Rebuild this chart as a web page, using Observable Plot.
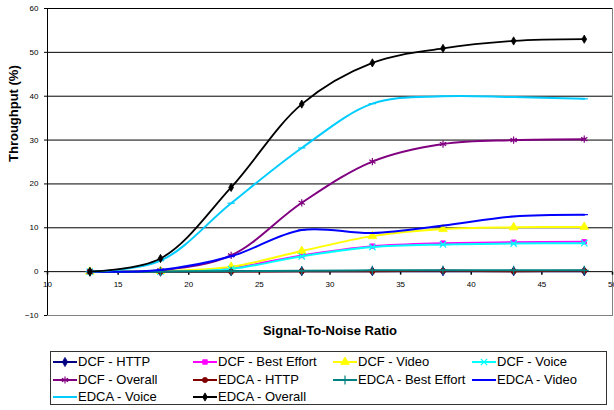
<!DOCTYPE html>
<html><head><meta charset="utf-8">
<script src="https://cdn.jsdelivr.net/npm/d3@7"></script>
<script src="https://cdn.jsdelivr.net/npm/@observablehq/plot@0.6"></script>
<style>
body{margin:0;background:#fff;font-family:"Liberation Sans",Arial,sans-serif;}
#wrap{position:relative;width:614px;height:410px;overflow:hidden;background:#fff;}
#legend{position:absolute;left:50px;top:351px;width:557px;height:54px;border:1px solid #333;box-sizing:border-box;}
.item{position:absolute;display:flex;align-items:center;height:16px;font-size:13px;line-height:16px;color:#000;white-space:nowrap;}
.item svg{margin-right:1px;}
</style></head><body><div id="wrap"><div id="chart"></div><div id="legend"></div></div>
<script>
// ---- data ----
const snr = [13, 18, 23, 28, 33, 38, 43, 48];
const seriesNames = ["DCF - HTTP", "DCF - Best Effort", "DCF - Video", "DCF - Voice", "DCF - Overall",
  "EDCA - HTTP", "EDCA - Best Effort", "EDCA - Video", "EDCA - Voice", "EDCA - Overall"];
const dcfHttp        = [0, 0, 0.1, 0.1, 0.1, 0.1, 0.1, 0.1];
const dcfBestEffort  = [0, 0, 0.8, 3.7, 5.8, 6.5, 6.7, 6.8];
const dcfVideo       = [0, 0.1, 1.1, 4.7, 8.1, 9.7, 10.1, 10.2];
const dcfVoice       = [0, 0, 0.6, 3.5, 5.6, 6.2, 6.4, 6.5];
const dcfOverall     = [0, 0.3, 3.7, 15.7, 25.1, 29.1, 30.0, 30.2];
const edcaHttp       = [0, 0, 0, 0.1, 0.1, 0.2, 0.1, 0.2];
const edcaBestEffort = [0, 0, 0.1, 0.2, 0.3, 0.3, 0.3, 0.3];
const edcaVideo      = [0, 0.4, 3.5, 9.5, 8.8, 10.5, 12.6, 13.0];
const edcaVoice      = [0, 2.5, 15.6, 28.2, 38.3, 40.0, 39.8, 39.4];
const edcaOverall    = [0, 3.0, 19.2, 38.2, 47.6, 50.9, 52.6, 53.0];
const seriesValues = [dcfHttp, dcfBestEffort, dcfVideo, dcfVoice, dcfOverall,
  edcaHttp, edcaBestEffort, edcaVideo, edcaVoice, edcaOverall];
const xTicks = [10, 15, 20, 25, 30, 35, 40, 45, 50];
const yTicks = [-10, 0, 10, 20, 30, 40, 50, 60];
const gridY = [10, 20, 30, 40, 50, 60];

// ---- styles ----
const colors = ["#000080", "#FF00FF", "#FFFF00", "#00FFFF", "#800080",
  "#800000", "#008080", "#0000FF", "#00CCFF", "#000000"];
const dash = {draw(ctx, size) { const w = Math.sqrt(size) * 0.8; ctx.moveTo(-w, 0); ctx.lineTo(w, 0); }};
const vtick = {draw(ctx) { ctx.moveTo(0, 0); ctx.lineTo(0, 3); }};
const markers = [
  {sym: "diamond", d3: d3.symbolDiamond, fill: true, r: 2.8},
  {sym: "square", d3: d3.symbolSquare, fill: true, r: 2.6},
  {sym: "triangle", d3: d3.symbolTriangle, fill: true, r: 3.2},
  {sym: "times", d3: d3.symbolTimes, fill: false, r: 3.0},
  {sym: "asterisk", d3: d3.symbolAsterisk, fill: false, r: 3.4},
  {sym: "circle", d3: d3.symbolCircle, fill: true, r: 2.6},
  {sym: "plus", d3: d3.symbolPlus, fill: false, r: 3.0},
  {sym: dash, d3: dash, fill: false, r: 2.6},
  {sym: dash, d3: dash, fill: false, r: 2.6},
  {sym: "diamond", d3: d3.symbolDiamond, fill: true, r: 2.5}
];

const rows = seriesNames.flatMap((s, i) => snr.map((x, j) => ({series: s, idx: i, x, y: seriesValues[i][j]})));

const seriesMarks = seriesNames.flatMap((s, i) => {
  const data = rows.filter(d => d.series === s);
  const m = markers[i];
  return [
    Plot.line(data, {x: "x", y: "y", stroke: colors[i], strokeWidth: i === 9 ? 1.8 : 2, curve: "catmull-rom"}),
    Plot.dot(data, {x: "x", y: "y", symbol: m.sym, r: m.r,
      fill: m.fill ? colors[i] : "none", stroke: colors[i], strokeWidth: m.fill ? 0.8 : 1.2})
  ];
});

const chart = Plot.plot({
  width: 614, height: 345,
  marginLeft: 47, marginRight: 2, marginTop: 8, marginBottom: 30,
  style: {fontFamily: "'Liberation Sans', Arial, sans-serif", background: "#fff", overflow: "visible"},
  x: {domain: [10, 50]},
  y: {domain: [-10, 60]},
  marks: [
    Plot.frame({stroke: "#808080"}),
    Plot.ruleY(gridY, {stroke: "#000", strokeWidth: 1}),
    Plot.ruleY([0], {stroke: "#000"}),
    Plot.ruleX([10], {stroke: "#000"}),
    Plot.axisY({ticks: yTicks, tickSize: 3, tickPadding: 6, fontSize: 8, label: null, stroke: "#000"}),
    Plot.axisX({ticks: [], label: null}),
    Plot.dot(xTicks, {x: d => d, y: 0, symbol: vtick, stroke: "#000", r: 2}),
    Plot.text(xTicks, {x: d => d, y: 0, dy: 13, text: d => `${d}`, fontSize: 8, fill: "#000"}),
    Plot.text(["Throughput (%)"], {frameAnchor: "left", dx: -34, rotate: -90, fontWeight: "bold", fontSize: 13, fill: "#000"}),
    Plot.text(["Signal-To-Noise Ratio"], {frameAnchor: "bottom", dy: 19, fontWeight: "bold", fontSize: 13, fill: "#000"}),
    ...seriesMarks
  ]
});
document.getElementById("chart").appendChild(chart);

// ---- legend ----
const legend = document.getElementById("legend");
const colX = [2, 142, 282, 421];
const rowY = [2, 19.5, 37];
seriesNames.forEach((s, i) => {
  const m = markers[i];
  const item = document.createElement("div");
  item.className = "item";
  item.style.left = colX[i % 4] + "px";
  item.style.top = rowY[Math.floor(i / 4)] + "px";
  const path = d3.symbol().type(m.d3).size(Math.PI * m.r * m.r)();
  item.innerHTML = `<svg width="24" height="12" viewBox="0 0 24 12">
    <line x1="0" x2="24" y1="6" y2="6" stroke="${colors[i]}" stroke-width="2"/>
    <path transform="translate(12,6)" d="${path}" fill="${m.fill ? colors[i] : "none"}" stroke="${colors[i]}" stroke-width="${m.fill ? 0.8 : 1.2}"/>
  </svg><span>${s}</span>`;
  legend.appendChild(item);
});
</script>
</body></html>
